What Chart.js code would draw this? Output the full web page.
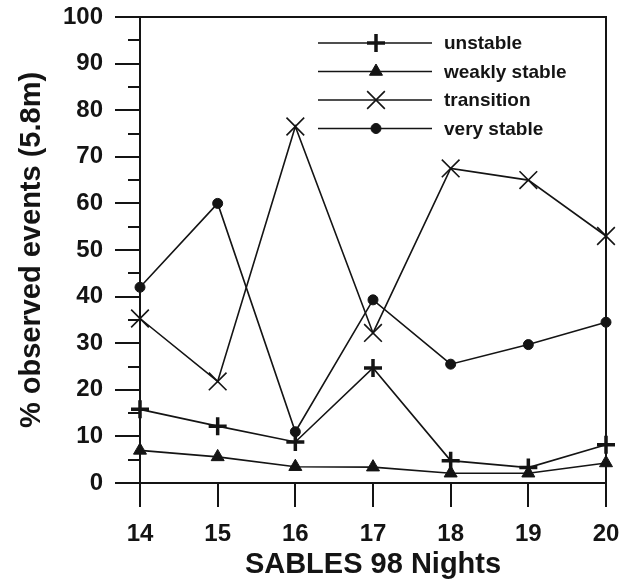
<!DOCTYPE html>
<html>
<head>
<meta charset="utf-8">
<script src="https://cdn.jsdelivr.net/npm/chart.js@4/dist/chart.umd.min.js"></script>
<style>
  html, body { margin: 0; padding: 0; background: #fff; }
  #wrap { width: 621px; height: 582px; }
</style>
</head>
<body>
<div id="wrap"><canvas id="myChart" width="621" height="582"></canvas></div>
<script>
// nights (x) and % observed events per stability class
const nights = [14, 15, 16, 17, 18, 19, 20];
const unstable = [15.8, 12.2, 8.8, 24.7, 4.8, 3.3, 8.2];
const weaklyStable = [7.0, 5.6, 3.5, 3.4, 2.1, 2.1, 4.3];
const transition = [35.3, 21.8, 76.5, 32.2, 67.5, 65.0, 53.0];
const veryStable = [42.0, 60.0, 11.0, 39.3, 25.5, 29.7, 34.5];
const yMinorTicks = [5, 15, 25, 35, 45, 55, 65, 75, 85, 95];

const ink = '#141414';
const font = 'Arial, "Liberation Sans", Helvetica, sans-serif';

function toPoints(vals) {
  return vals.map((v, i) => ({ x: nights[i], y: v }));
}

function serie(label, vals, style, radius, pbw) {
  return {
    label: label,
    data: toPoints(vals),
    borderColor: ink,
    backgroundColor: ink,
    borderWidth: 1.6,
    pointStyle: style,
    pointRadius: radius,
    pointBorderWidth: pbw,
    pointBackgroundColor: ink,
    pointBorderColor: ink,
    clip: false,
    tension: 0
  };
}

// frame, minor ticks and the legend with line-through markers
const extras = {
  id: 'extras',
  afterDraw(chart) {
    const ctx = chart.ctx;
    const a = chart.chartArea;
    const y = chart.scales.y;
    ctx.save();
    ctx.strokeStyle = ink;
    ctx.lineWidth = 2;
    ctx.beginPath();
    ctx.moveTo(a.left, a.top);
    ctx.lineTo(a.right, a.top);
    ctx.lineTo(a.right, a.bottom);
    ctx.stroke();
    // minor ticks
    yMinorTicks.forEach(v => {
      const py = Math.round(y.getPixelForValue(v));
      ctx.beginPath();
      ctx.moveTo(a.left - 12, py);
      ctx.lineTo(a.left, py);
      ctx.stroke();
    });
    // legend
    chart.data.datasets.forEach((ds, i) => {
      const ly = 43 + i * 28.5;
      ctx.lineWidth = 1.6;
      ctx.strokeStyle = ink;
      ctx.fillStyle = ink;
      ctx.beginPath();
      ctx.moveTo(318, ly);
      ctx.lineTo(432, ly);
      ctx.stroke();
      ctx.lineWidth = ds.pointBorderWidth;
      Chart.helpers.drawPoint(ctx, {
        pointStyle: ds.pointStyle,
        radius: ds.pointRadius,
        borderWidth: ds.pointBorderWidth,
        rotation: 0
      }, 376, ly);
      ctx.font = 'bold 19px ' + font;
      ctx.textBaseline = 'middle';
      ctx.textAlign = 'left';
      ctx.fillText(ds.label, 444, ly + 1);
    });
    ctx.restore();
  }
};

const ctx = document.getElementById('myChart').getContext('2d');
const myChart = new Chart(ctx, {
  type: 'line',
  data: {
    datasets: [
      serie('unstable', unstable, 'cross', 9, 3.5),
      serie('weakly stable', weaklyStable, 'triangle', 7.5, 1),
      serie('transition', transition, 'crossRot', 12.5, 1.6),
      serie('very stable', veryStable, 'circle', 5, 1)
    ]
  },
  options: {
    responsive: false,
    animation: false,
    layout: { padding: { left: 0, top: 17, right: 15, bottom: 0 } },
    plugins: {
      legend: { display: false },
      tooltip: { enabled: false }
    },
    scales: {
      x: {
        type: 'linear',
        min: 14,
        max: 20,
        afterFit(scale) {
          scale.height = 99;
          scale.paddingLeft = 0;
          scale.paddingRight = 0;
        },
        ticks: {
          stepSize: 1,
          color: ink,
          padding: 13,
          font: { family: font, size: 24, weight: 'bold' }
        },
        grid: { drawOnChartArea: false, tickLength: 24, color: ink, lineWidth: 2 },
        border: { color: ink, width: 2 },
        title: {
          display: true,
          text: 'SABLES 98 Nights',
          color: ink,
          padding: { top: 0, bottom: 0 },
          font: { family: font, size: 29, weight: 'bold' }
        }
      },
      y: {
        min: 0,
        max: 100,
        afterFit(scale) {
          scale.width = 140;
          scale.paddingTop = 0;
          scale.paddingBottom = 0;
        },
        ticks: {
          stepSize: 10,
          color: ink,
          padding: 12,
          font: { family: font, size: 24, weight: 'bold' }
        },
        grid: { drawOnChartArea: false, tickLength: 25, color: ink, lineWidth: 2 },
        border: { color: ink, width: 2 },
        title: {
          display: true,
          text: '% observed events (5.8m)',
          color: ink,
          padding: { top: 15, bottom: 0 },
          font: { family: font, size: 29, weight: 'bold' }
        }
      }
    }
  },
  plugins: [extras]
});
</script>
</body>
</html>
